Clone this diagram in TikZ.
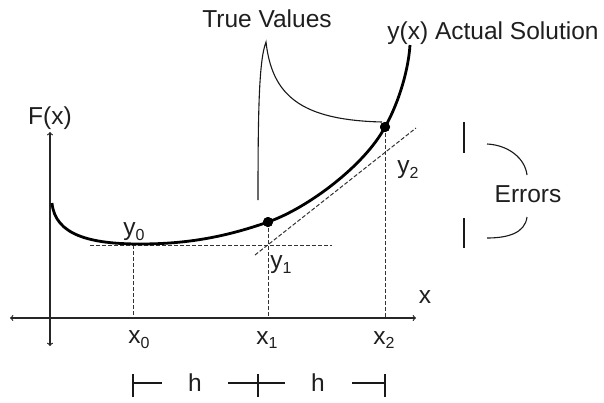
\documentclass[tikz,border=0pt]{standalone}
\usepackage{fontspec}
\setmainfont{Liberation Sans}
\newcommand{\sbx}[1]{\raisebox{-0.2em}{\fontsize{16}{16}\selectfont #1}}
\begin{document}
\begin{tikzpicture}[x=1pt,y=-1pt,
  lbl/.style={inner sep=0pt,text=black!88,font=\fontsize{24.5}{27}\selectfont},
  axis/.style={line width=1.2pt,black!85},
  guide/.style={line width=1pt,dash pattern=on 4pt off 2pt,black!80},
  sol/.style={line width=2.8pt,black},
  thin/.style={line width=1.1pt,black!90},
  dotm/.style={circle,fill=black,inner sep=0pt,minimum size=10pt}]
\path[use as bounding box,fill=white] (0,0) rectangle (604,402);
% axes
\coordinate (axL) at (10,318);
\coordinate (axR) at (416,318);
\coordinate (ayT) at (50,132);
\coordinate (ayB) at (50,346);
\draw[axis,<->] (axL) -- (axR);
\draw[axis,<->] (ayB) -- (ayT);
% points
\node[dotm] (p1) at (268,222) {};
\node[dotm] (p2) at (385,127) {};
\coordinate (s0) at (52,203);
\coordinate (m0) at (140,244);
\coordinate (s3) at (410,45);
% guides
\coordinate (hL) at (90,245);
\coordinate (hR) at (332,245);
\draw[guide] (hL) -- (hR);
\coordinate (q0) at (133,245);
\coordinate (b0) at (133,318);
\coordinate (b1) at (268,318);
\coordinate (b2) at (385,318);
\draw[guide] (q0) -- (b0);
\draw[guide] (p1.center) -- (b1);
\draw[guide] (p2.center) -- (b2);
\coordinate (tA) at (255,255);
\coordinate (tB) at (416,128);
\draw[guide] (tA) -- (tB);
% solution curve
\draw[sol] (s0) .. controls (55,235) and (90,244) .. (m0)
  .. controls (190,244) and (228,236) .. (p1.center)
  .. controls (308,208) and (365,165) .. (p2.center)
  .. controls (396,108) and (408,75) .. (s3);
\node[dotm] at (p1) {};
\node[dotm] at (p2) {};
% true values bracket
\coordinate (tvL) at (258,200);
\coordinate (tvP) at (266,42);
\coordinate (tvR) at (382,122);
\draw[thin] (tvL) .. controls (258,110) and (259,60) .. (tvP)
  .. controls (272,95) and (300,120) .. (tvR);
% errors
\coordinate (e1a) at (464,122);
\coordinate (e1b) at (464,153);
\coordinate (e2a) at (464,218);
\coordinate (e2b) at (464,248);
\draw[thin] (e1a) -- (e1b);
\draw[thin] (e2a) -- (e2b);
\coordinate (ea1) at (487,144);
\coordinate (ea2) at (527,175);
\coordinate (eb1) at (527,217);
\coordinate (eb2) at (487,238);
\draw[thin] (ea1) .. controls (508,145) and (525,158) .. (ea2);
\draw[thin] (eb1) .. controls (525,233) and (508,238) .. (eb2);
% h dimension
\foreach \n/\x in {k0/133,k1/258,k2/385}{
  \coordinate (\n t) at (\x,374);
  \coordinate (\n b) at (\x,397);
  \draw[thin] (\n t) -- (\n b);
}
\coordinate (hs1a) at (133,383);
\coordinate (hs1b) at (162,383);
\coordinate (hs2a) at (228,383);
\coordinate (hs2b) at (285,383);
\coordinate (hs3a) at (352,383);
\coordinate (hs3b) at (385,383);
\draw[thin] (hs1a) -- (hs1b);
\draw[thin] (hs2a) -- (hs2b);
\draw[thin] (hs3a) -- (hs3b);
% labels
\node[lbl] (lF) at (50,118) {F(x)};
\node[lbl] (lTV) at (267,19) {True Values};
\node[lbl] (lY) at (493,33) {y(x) Actual Solution};
\node[lbl] (lE) at (528,194) {Errors};
\node[lbl] (ly0) at (134,232) {y\sbx{0}};
\node[lbl] (ly1) at (281,265) {y\sbx{1}};
\node[lbl] (ly2) at (408,170) {y\sbx{2}};
\node[lbl] (lx0) at (139,340) {x\sbx{0}};
\node[lbl] (lx1) at (267,340) {x\sbx{1}};
\node[lbl] (lx2) at (384,340) {x\sbx{2}};
\node[lbl] (lx) at (425,297) {x};
\node[lbl] (lh1) at (195,383) {h};
\node[lbl] (lh2) at (318,383) {h};
\end{tikzpicture}
\end{document}
